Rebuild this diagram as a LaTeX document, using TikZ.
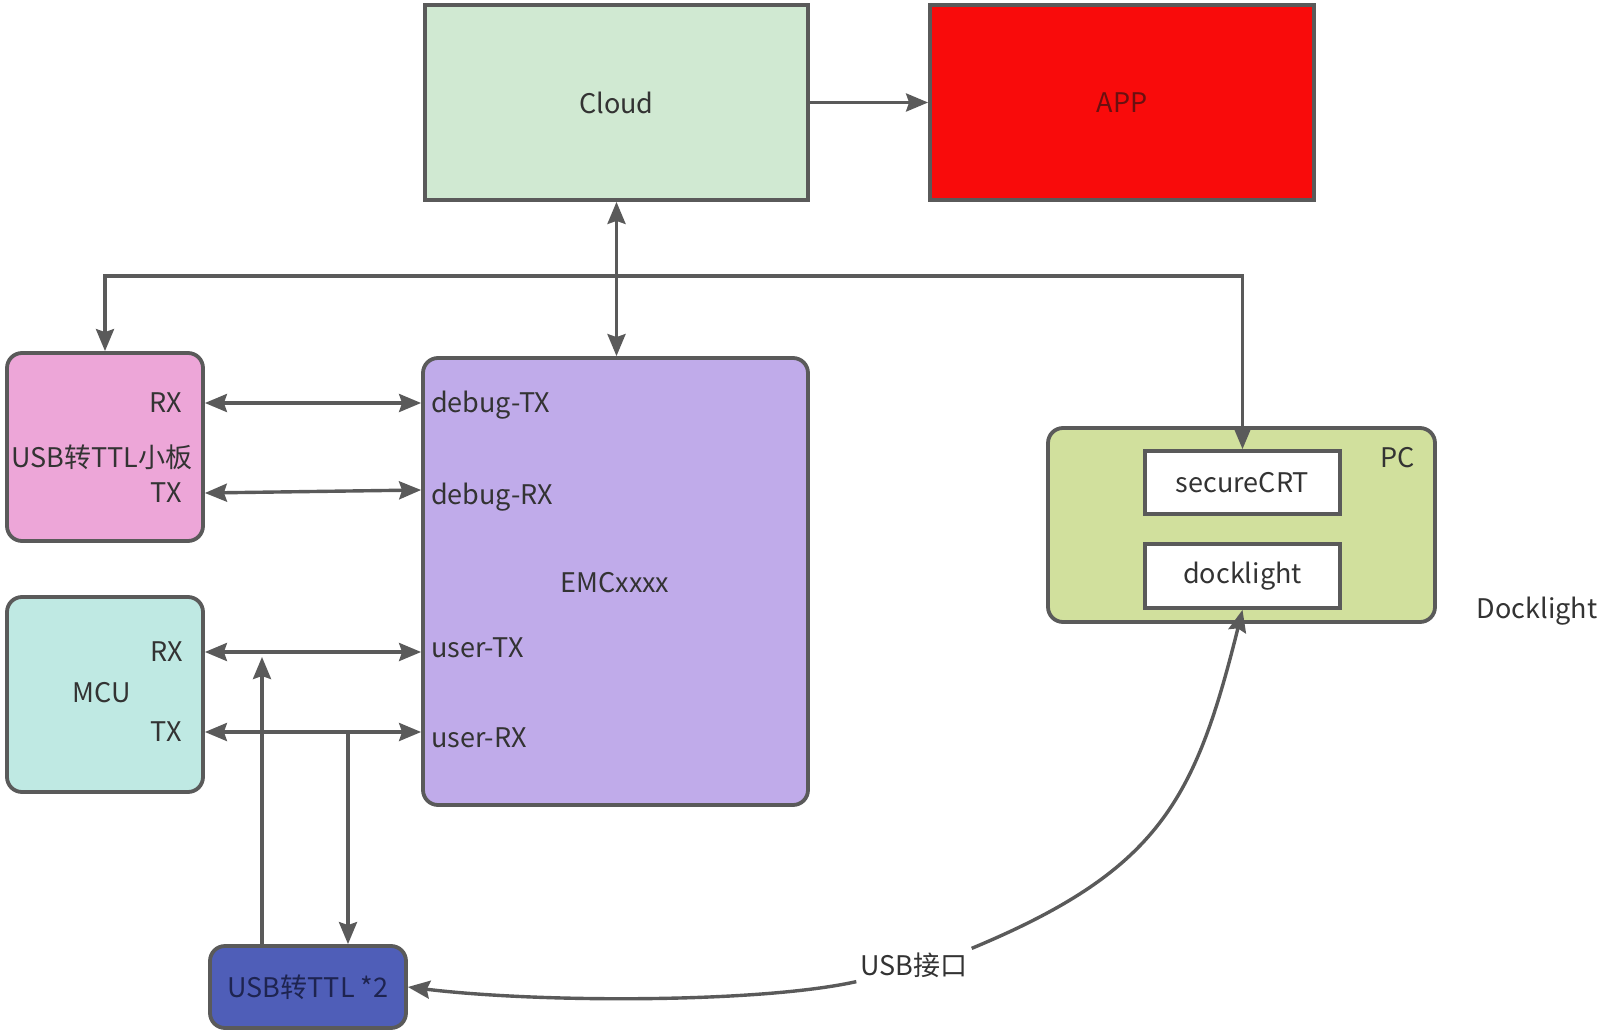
\documentclass[tikz,border=0pt]{standalone}
\usepackage{fontspec}
\setmainfont{Noto Sans CJK SC}
\usetikzlibrary{arrows.meta}
\definecolor{ln}{HTML}{5A5A5A}
\definecolor{txt}{HTML}{333333}
\definecolor{cloudc}{HTML}{D0E9D2}
\definecolor{appc}{HTML}{F90B0B}
\definecolor{appt}{HTML}{6A1010}
\definecolor{emcc}{HTML}{C0ABEA}
\definecolor{pinkc}{HTML}{EDA6D8}
\definecolor{mcuc}{HTML}{BFE9E3}
\definecolor{pcc}{HTML}{D1E09D}
\definecolor{usbc}{HTML}{4F5EB8}
\definecolor{usbt}{HTML}{1E2450}
\tikzset{
  box/.style={draw=ln, line width=3.8pt, inner sep=0pt, text=txt, font=\fontsize{27}{32}\selectfont},
  rbox/.style={box, rounded corners=15pt},
  lbl/.style={text=txt, inner sep=0pt, font=\fontsize{27}{32}\selectfont},
  arr/.style={draw=ln, line width=3.4pt, -{Stealth[length=22pt,width=18pt,inset=3pt]}},
  darr/.style={draw=ln, line width=3.4pt, {Stealth[length=22pt,width=18pt,inset=3pt]}-{Stealth[length=22pt,width=18pt,inset=3pt]}}
}
\begin{document}
\begin{tikzpicture}[x=1pt,y=-1pt]
\useasboundingbox[fill=white] (0,0) rectangle (1610,1033);

% boxes
\node[box, fill=cloudc, minimum width=383pt, minimum height=195pt] (cloud) at (616.5,102.5) {Cloud};
\node[box, fill=appc, text=appt, minimum width=384pt, minimum height=195pt] (app) at (1122,102.5) {APP};
\node[rbox, fill=emcc, minimum width=385pt, minimum height=447pt] (emc) at (615.5,581.5) {};
\node[rbox, fill=pinkc, minimum width=196pt, minimum height=188pt] (pink) at (105,447) {};
\node[rbox, fill=mcuc, minimum width=196pt, minimum height=195pt] (mcu) at (105,694.5) {};
\node[rbox, fill=pcc, minimum width=387pt, minimum height=194pt] (pc) at (1241.5,525) {};
\node[box, fill=white, minimum width=195pt, minimum height=63pt] (securecrt) at (1242.5,482.5) {secureCRT};
\node[box, fill=white, minimum width=195pt, minimum height=64pt] (docklight) at (1242.5,576) {docklight};
\node[rbox, fill=usbc, text=usbt, minimum width=196pt, minimum height=82pt] (usb2) at (308,987) {USB转TTL *2};

% labels
\node[lbl, anchor=base east] (prx) at (182,412.5) {RX};
\node[lbl, anchor=base] (pusb) at (102,467.5) {USB转TTL小板};
\node[lbl, anchor=base east] (ptx) at (182,502.5) {TX};
\node[lbl, anchor=base east] (mrx) at (183,661.5) {RX};
\node[lbl, anchor=base] (mcut) at (102,702.5) {MCU};
\node[lbl, anchor=base east] (mtx) at (182,741.5) {TX};
\node[lbl, anchor=base west] (dtx) at (431,412.5) {debug-TX};
\node[lbl, anchor=base west] (drx) at (431,504.5) {debug-RX};
\node[lbl, anchor=base west] (utx) at (431,657.5) {user-TX};
\node[lbl, anchor=base west] (urx) at (431,747.5) {user-RX};
\node[lbl, anchor=base] (emct) at (615,592.5) {EMCxxxx};
\node[lbl, anchor=base] (pct) at (1398,467.5) {PC};
\node[lbl, anchor=base] (dockt) at (1537,618.5) {Docklight};
\node[lbl, inner sep=4pt] (usbif) at (914,965) {USB接口};

% coordinates
\coordinate (bus) at (0,276);
\coordinate (ydtx) at (0,403);
\coordinate (ydrxl) at (0,493);
\coordinate (ydrxr) at (0,490);
\coordinate (yutx) at (0,652);
\coordinate (yurx) at (0,732);
\coordinate (upend) at (262,657);
\coordinate (downstart) at (348,732);

% connectors
\draw[arr] (cloud.east) -- (app.west);
\draw[darr] (cloud.south) -- (emc.north -| cloud.south);
\draw[darr] (pink.north) |- (bus -| securecrt.north) -- (securecrt.north);
\draw[darr] (pink.east |- ydtx) -- (emc.west |- ydtx);
\draw[darr] (pink.east |- ydrxl) -- (emc.west |- ydrxr);
\draw[darr] (mcu.east |- yutx) -- (emc.west |- yutx);
\draw[darr] (mcu.east |- yurx) -- (emc.west |- yurx);
\draw[arr] (usb2.north -| upend) -- (upend);
\draw[arr] (downstart) -- (usb2.north -| downstart);
\draw[arr] (usbif.north east) .. controls (1160,870) and (1195,800) .. (docklight.south);
\draw[arr] (usbif.south west) .. controls (760,1003) and (540,1003) .. (usb2.east);
\end{tikzpicture}
\end{document}
